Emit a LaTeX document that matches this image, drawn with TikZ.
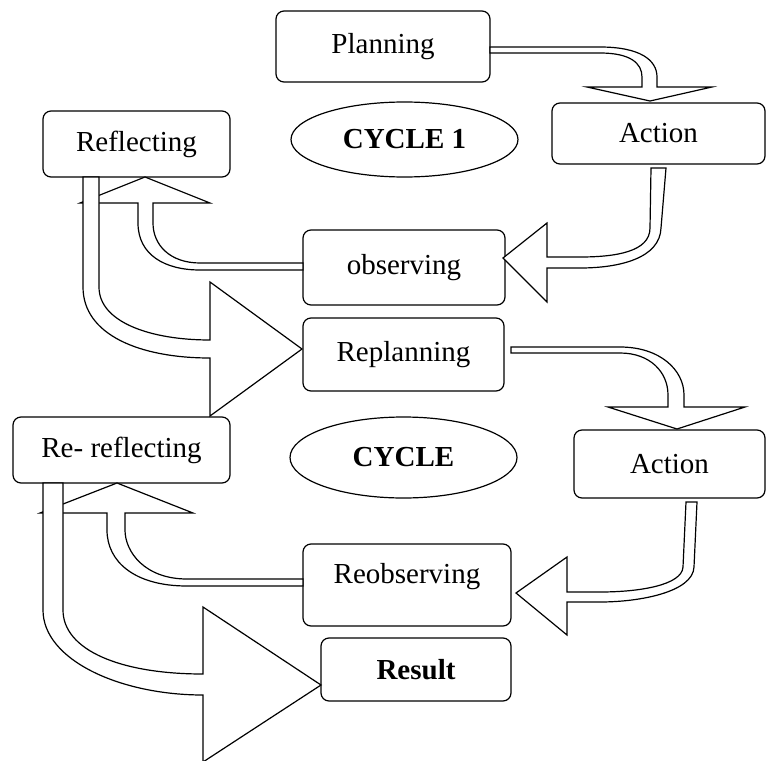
\documentclass[tikz,border=0pt]{standalone}
\usepackage{fontspec}
\setmainfont{Liberation Serif}
\usetikzlibrary{shapes.geometric}
\begin{document}
\begin{tikzpicture}[x=1pt,y=-1pt,
  box/.style={draw, rounded corners=8pt, line width=1.2pt, inner sep=0pt,
    font=\fontsize{29}{34}\selectfont},
  oval/.style={draw, ellipse, line width=1.2pt, inner sep=0pt,
    font=\fontsize{29}{34}\selectfont\bfseries},
  blockarrow/.style={draw, fill=white, line width=1.2pt, line join=miter}]
\fill[white] (0,0) rectangle (768,760);
\useasboundingbox (0,0) rectangle (768,760);

% boxes
\node[box, minimum width=214pt, minimum height=71pt] (plan) at (383,46.5) {Planning};
\node[box, minimum width=213pt, minimum height=61pt] (act1) at (658.5,133.5) {Action};
\node[oval, minimum width=227pt, minimum height=75pt] (cyc1) at (404.5,139.5) {CYCLE 1};
\node[box, minimum width=187pt, minimum height=66pt] (refl) at (136.5,144) {Reflecting};
\node[box, minimum width=202pt, minimum height=75pt] (obs) at (404,267.5) {observing};
\node[box, minimum width=201pt, minimum height=73pt] (replan) at (403.5,354.5) {Replanning};
\node[box, minimum width=191pt, minimum height=68pt] (act2) at (669.5,464) {Action};
\node[oval, minimum width=227pt, minimum height=81pt] (cyc2) at (403.5,457.5) {CYCLE};
\node[box, minimum width=217pt, minimum height=66pt] (rerefl) at (121.5,450) {Re- reflecting};
\node[box, minimum width=208pt, minimum height=82pt, text height=20pt, text depth=24pt] (reobs) at (407,585) {Reobserving};
\node[box, minimum width=190pt, minimum height=63pt, font=\fontsize{29}{34}\selectfont\bfseries] (res) at (416,669.5) {Result};

% Planning -> Action
\draw[blockarrow] (490,47) -- (600,47) .. controls (640,47) and (657,60) .. (657,77)
  -- (657,87) -- (712,87) -- (650,101) -- (587,87) -- (642,87) -- (642,77)
  .. controls (642,63) and (630,53) .. (600,53) -- (490,53) -- cycle;

% Action -> observing
\draw[blockarrow] (651,168) -- (666,168) -- (661,228)
  .. controls (660,258) and (620,268) .. (580,268) -- (547,268) -- (547,302)
  -- (503,258) -- (547,223) -- (547,257) -- (580,257)
  .. controls (615,257) and (650,252) .. (650,228) -- cycle;

% observing -> Reflecting
\draw[blockarrow] (303,263) -- (200,263) .. controls (170,263) and (153,245) .. (153,223)
  -- (153,203) -- (210,203) -- (145,177) -- (80,203) -- (138,203) -- (138,223)
  .. controls (138,255) and (165,270) .. (200,270) -- (303,270) -- cycle;

% Reflecting -> Replanning
\draw[blockarrow] (99,177) -- (99,287) .. controls (99,322) and (150,340) .. (210,340)
  -- (210,282) -- (302,349) -- (210,416) -- (210,358)
  .. controls (140,358) and (83,335) .. (83,287) -- (83,177) -- cycle;

% Replanning -> Action
\draw[blockarrow] (511,347) -- (620,347) .. controls (660,347) and (684,370) .. (684,395)
  -- (684,407) -- (745,407) -- (677,429) -- (608,407) -- (668,407) -- (668,395)
  .. controls (668,372) and (650,353) .. (620,353) -- (511,353) -- cycle;

% Action -> Reobserving
\draw[blockarrow] (686,502) -- (697,502) -- (694,567)
  .. controls (693,592) and (640,602) .. (600,602) -- (567,602) -- (567,635)
  -- (516,593) -- (567,557) -- (567,592) -- (600,592)
  .. controls (640,592) and (682,585) .. (683,567) -- cycle;

% Reobserving -> Re-reflecting
\draw[blockarrow] (303,579) -- (187,579) .. controls (145,579) and (125,552) .. (125,530)
  -- (125,513) -- (193,513) -- (117,483) -- (40,513) -- (107,513) -- (107,530)
  .. controls (107,562) and (135,586) .. (187,586) -- (303,586) -- cycle;

% Re-reflecting -> Result
\draw[blockarrow] (63,483) -- (63,610) .. controls (63,650) and (120,674) .. (203,674)
  -- (203,607) -- (321,685) -- (203,762) -- (203,695)
  .. controls (120,695) and (43,660) .. (43,610) -- (43,483) -- cycle;
\end{tikzpicture}
\end{document}
